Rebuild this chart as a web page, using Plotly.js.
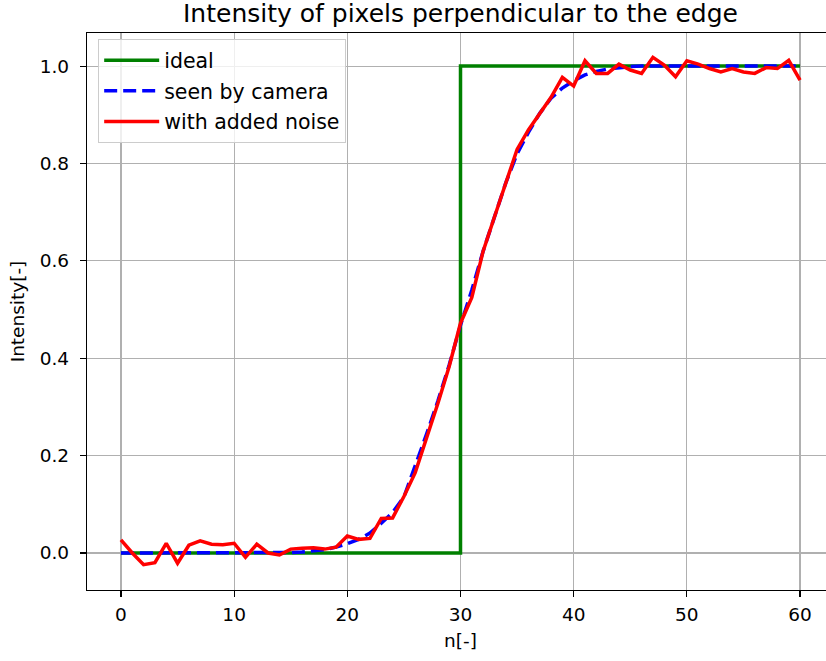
<!DOCTYPE html>
<html>
<head>
<meta charset="utf-8">
<script src="https://cdn.plot.ly/plotly-3.0.1.min.js"></script>
<style>
html, body { margin: 0; padding: 0; overflow: hidden; background: #fff; }
#chart { width: 846px; height: 661px; }
</style>
</head>
<body>
<div id="chart"></div>
<script>
// sample index n[-]
const n = [0,1,2,3,4,5,6,7,8,9,10,11,12,13,14,15,16,17,18,19,20,21,22,23,24,25,26,27,28,29,30,
           31,32,33,34,35,36,37,38,39,40,41,42,43,44,45,46,47,48,49,50,51,52,53,54,55,56,57,58,59,60];

// ideal step edge
const ideal = [0,0,0,0,0,0,0,0,0,0,0,0,0,0,0,0,0,0,0,0,0,0,0,0,0,0,0,0,0,0,
               1,1,1,1,1,1,1,1,1,1,1,1,1,1,1,1,1,1,1,1,1,1,1,1,1,1,1,1,1,1,1];

// blurred edge as seen by the camera
const camera = [0,0,0,0,0,0,0,0,0,0,0,0,0,0,0,0.001,0.002,0.004,0.007,0.012,0.019,
                0.028,0.041,0.061,0.083,0.115,0.178,0.244,0.312,0.386,0.468,
                0.54,0.62,0.69,0.76,0.82,0.864,0.903,0.934,0.955,0.97,
                0.982,0.989,0.994,0.997,0.999,1,1,1,1,1,1,1,1,1,1,1,1,1,1,1];

// camera signal with added noise
const noisy = [0.027,0.0,-0.024,-0.02,0.02,-0.021,0.016,0.025,0.018,0.017,0.02,
               -0.009,0.018,0.0,-0.004,0.008,0.01,0.011,0.008,0.012,0.035,
               0.028,0.03,0.071,0.072,0.116,0.165,0.235,0.307,0.383,0.472,
               0.525,0.62,0.69,0.76,0.829,0.869,0.903,0.936,0.977,0.959,
               1.011,0.985,0.985,1.004,0.992,0.985,1.018,1.002,0.978,1.011,
               1.004,0.995,0.988,0.995,0.988,0.985,0.997,0.995,1.012,0.971];

const xTicks = [0,10,20,30,40,50,60];
const yTicks = [0.0,0.2,0.4,0.6,0.8,1.0];

const FONT = "DejaVu Sans, Arial, sans-serif";

const traces = [
  {x: n, y: ideal, name: 'ideal', legendgroup: 'g1', mode: 'lines', line: {color: '#008000', width: 3.5, shape: 'hv'}},
  {x: n, y: camera, name: 'seen by camera', legendgroup: 'g2', mode: 'lines', line: {color: '#0000ff', width: 3.5, dash: '13px,6px'}},
  {x: n, y: noisy, name: 'with added noise', legendgroup: 'g3', mode: 'lines', line: {color: '#ff0000', width: 3.5}}
];

const axisCommon = {
  showline: true, linecolor: '#000', linewidth: 1.2, mirror: true,
  ticks: 'outside', ticklen: 6, tickwidth: 1.2, tickcolor: '#000',
  showgrid: true, gridcolor: '#b0b0b0', gridwidth: 1.1,
  zeroline: false,
  tickfont: {family: FONT, size: 18.5, color: '#000'}
};

const layout = {
  width: 846, height: 661,
  margin: {l: 87, r: 12, t: 33, b: 71},
  paper_bgcolor: '#fff', plot_bgcolor: '#fff',
  font: {family: FONT, color: '#000'},
  showlegend: true,
  title: {text: 'Intensity of pixels perpendicular to the edge', font: {family: FONT, size: 25, color: '#000'},
          x: 0.5, xref: 'paper', y: 1 - 13/661, yref: 'container', yanchor: 'middle'},
  xaxis: Object.assign({}, axisCommon, {
    range: [-3, 63], tickvals: xTicks, ticktext: xTicks.map(String),
    ticklabelstandoff: 2,
    title: {text: 'n[-]', font: {family: FONT, size: 18.5, color: '#000'}, standoff: 9}
  }),
  yaxis: Object.assign({}, axisCommon, {
    range: [-0.076, 1.068], tickvals: yTicks, ticktext: yTicks.map(v => v.toFixed(1)),
    ticklabelstandoff: 7,
    title: {text: 'Intensity[-]', font: {family: FONT, size: 18.5, color: '#000'}, standoff: 10}
  }),
  legend: {
    x: 0.0147, y: 0.989, xanchor: 'left', yanchor: 'top',
    traceorder: 'grouped', tracegroupgap: 1, itemwidth: 55,
    bgcolor: 'rgba(255,255,255,0.8)', bordercolor: '#cccccc', borderwidth: 1.2,
    font: {family: FONT, size: 20.5, color: '#000'}
  }
};

Plotly.newPlot('chart', traces, layout, {displayModeBar: false, staticPlot: true});
</script>
</body>
</html>
